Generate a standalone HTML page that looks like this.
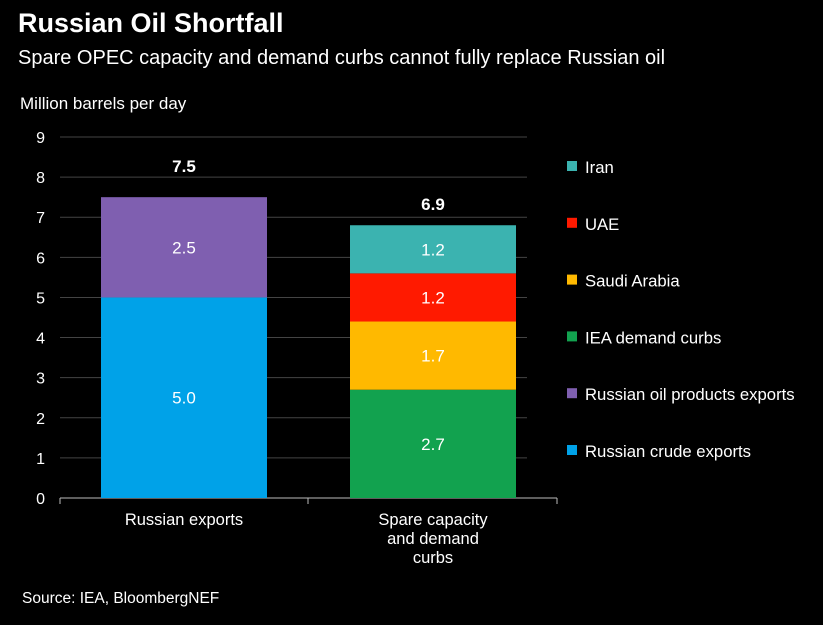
<!DOCTYPE html>
<html><head><meta charset="utf-8"><style>
body{margin:0;background:#000;width:823px;height:620px;overflow:hidden;font-family:"Liberation Sans",sans-serif;color:#fff}
</style></head><body>
<svg width="823" height="620" font-family="Liberation Sans, sans-serif">
<text x="18" y="32" font-size="27" font-weight="bold" fill="#fff">Russian Oil Shortfall</text>
<text x="18" y="64" font-size="20" fill="#fff">Spare OPEC capacity and demand curbs cannot fully replace Russian oil</text>
<text x="20" y="109" font-size="17" fill="#fff">Million barrels per day</text>
<text x="22" y="603" font-size="15.5" fill="#fff">Source: IEA, BloombergNEF</text>
<g id="grid"></g><g id="bars"></g><g id="legend"></g>
</svg>
<script>
const categories=["Russian exports","Spare capacity|and demand|curbs"];
const seriesNames=["Russian crude exports","Russian oil products exports","IEA demand curbs","Saudi Arabia","UAE","Iran"];
const seriesColors=["#00a2e8","#7f5fb0","#12a24f","#ffb900","#ff1a00","#3bb3b0"];
const crude=[5.0,0];
const products=[2.5,0];
const iea=[0,2.7];
const saudi=[0,1.7];
const uae=[0,1.2];
const iran=[0,1.2];
const totals=[7.5,6.9];
const yTicks=[0,1,2,3,4,5,6,7,8,9];
const NS="http://www.w3.org/2000/svg";
const y0=498,yTop=137,yMax=9;
const y=v=>y0-(v/yMax)*(y0-yTop);
const bx=[101,350],bw=166,totalGap=[25,11];
function mk(t,a,p){const e=document.createElementNS(NS,t);for(const k in a)e.setAttribute(k,a[k]);p.appendChild(e);return e;}
const grid=document.getElementById('grid');
yTicks.forEach(t=>{
  if(t>0){const l=mk('line',{x1:60,x2:527,y1:y(t),y2:y(t),stroke:'#444','stroke-width':1},grid);
  
  }
  const tx=mk('text',{x:45,y:y(t)+6,'font-size':16,fill:'#fff','text-anchor':'end'},grid);tx.textContent=t;
  
  
});
const ax=mk('line',{x1:60,x2:557,y1:y0,y2:y0,stroke:'#bbb','stroke-width':1},grid);


[60,308,557].forEach(x=>{const t=mk('line',{x1:x,x2:x,y1:y0,y2:y0+6,stroke:'#bbb'},grid);

});
categories.forEach((c,i)=>{c.split('|').forEach((ln,j)=>{const t=mk('text',{x:bx[i]+bw/2,y:525+j*19,'font-size':16.5,fill:'#fff','text-anchor':'middle'},grid);t.textContent=ln;

});});
const series=[crude,products,iea,saudi,uae,iran];
const bars=document.getElementById('bars');
categories.forEach((c,i)=>{
  let base=0;
  series.forEach((s,k)=>{const v=s[i];if(!v)return;
    const r=mk('rect',{x:bx[i],y:y(base+v),width:bw,height:y(base)-y(base+v),fill:seriesColors[k]},bars);
    
    
    const t=mk('text',{x:bx[i]+bw/2,y:(y(base)+y(base+v))/2+6,'font-size':17,fill:'#fff','text-anchor':'middle'},bars);t.textContent=v.toFixed(1);
    
    
    base+=v;});
  const t=mk('text',{x:bx[i]+bw/2,y:y(totals[i])-totalGap[i],'font-size':17,'font-weight':'bold',fill:'#fff','text-anchor':'middle'},bars);t.textContent=totals[i].toFixed(1);
  
  
});
const lg=document.getElementById('legend');
for(let k=5;k>=0;k--){const row=5-k,ly=167+row*56.8;
  const r=mk('rect',{x:567,y:ly-6,width:10,height:10,fill:seriesColors[k]},lg);
  
  
  const t=mk('text',{x:585,y:ly+6,'font-size':16.7,fill:'#fff'},lg);t.textContent=seriesNames[k];
  
  }
</script>
</body></html>
